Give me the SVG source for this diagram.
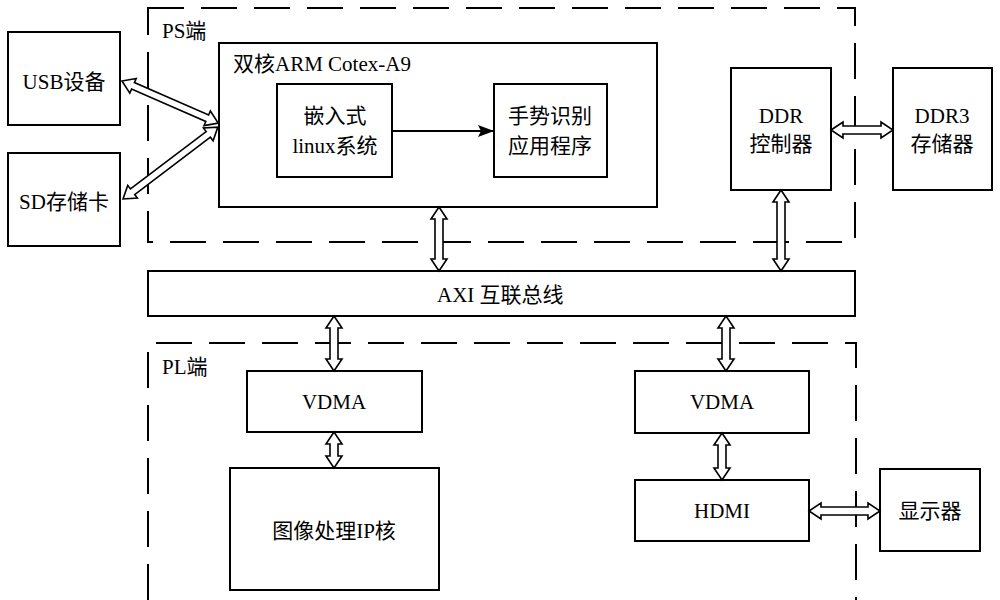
<svg xmlns="http://www.w3.org/2000/svg" width="1000" height="600" viewBox="0 0 1000 600">
<defs>
<style>
.box{fill:#fff;stroke:#000;stroke-width:2}
.region{fill:none;stroke:#000;stroke-width:2;stroke-dasharray:36 17}
.dar{fill:#fff;stroke:#000;stroke-width:1.6;stroke-linejoin:miter}
text{font-family:"Liberation Serif","Noto Sans CJK SC",serif;font-size:21px;fill:#000}
.c{text-anchor:middle}
</style>
<marker id="tri" viewBox="0 0 16 12" refX="16" refY="6" markerWidth="16" markerHeight="12" markerUnits="userSpaceOnUse" orient="auto">
<path d="M0,0 L16,6 L0,12 L3,6 Z" fill="#000"/>
</marker>
</defs>
<rect width="1000" height="600" fill="#fff"/>

<g id="ps-region">
<rect class="region" x="148" y="8" width="707" height="234"/>
<text x="162" y="38">PS端</text>
</g>
<g id="pl-region">
<path class="region" d="M148,600 L148,343 L856,343 L856,600"/>
<text x="162" y="374">PL端</text>
</g>

<g id="usb"><rect class="box" x="8" y="32" width="112" height="93"/><text class="c" x="64" y="89">USB设备</text></g>
<g id="sd"><rect class="box" x="8" y="153" width="112" height="93"/><text class="c" x="64" y="209">SD存储卡</text></g>
<g id="arm"><rect class="box" x="219" y="43" width="438" height="164"/><text x="233" y="71">双核ARM Cotex-A9</text></g>
<g id="linux"><rect class="box" x="277" y="84" width="115" height="93"/><text class="c" x="335" y="123">嵌入式</text><text class="c" x="335" y="153">linux系统</text></g>
<g id="app"><rect class="box" x="494" y="84" width="113" height="93"/><text class="c" x="550" y="123">手势识别</text><text class="c" x="550" y="153">应用程序</text></g>
<g id="ddrc"><rect class="box" x="731" y="68" width="100" height="122"/><text class="c" x="781" y="123">DDR</text><text class="c" x="781" y="151">控制器</text></g>
<g id="ddr3"><rect class="box" x="893" y="68" width="99" height="122"/><text class="c" x="942" y="123">DDR3</text><text class="c" x="942" y="151">存储器</text></g>
<g id="axi"><rect class="box" x="148" y="271" width="707" height="45"/><text x="437" y="302">AXI 互联总线</text></g>
<g id="vdma1"><rect class="box" x="247" y="371" width="175" height="61"/><text class="c" x="334" y="409">VDMA</text></g>
<g id="ipcore"><rect class="box" x="230" y="468" width="209" height="122"/><text class="c" x="334" y="538">图像处理IP核</text></g>
<g id="vdma2"><rect class="box" x="635" y="371" width="174" height="62"/><text class="c" x="722" y="409">VDMA</text></g>
<g id="hdmi"><rect class="box" x="635" y="480" width="174" height="61"/><text class="c" x="722" y="518">HDMI</text></g>
<g id="display"><rect class="box" x="880" y="469" width="100" height="82"/><text class="c" x="930" y="518">显示器</text></g>

<g id="connectors">
<line x1="392" y1="131" x2="494" y2="131" stroke="#000" stroke-width="2" marker-end="url(#tri)"/>
<path class="dar" transform="translate(122,81) rotate(23.63)" d="M0,0 L12,-8 L12,-3.5 L93,-3.5 L93,-8 L105,0 L93,8 L93,3.5 L12,3.5 L12,8 Z"/>
<path class="dar" transform="translate(123,199) rotate(-37.16)" d="M0,0 L12,-8 L12,-3.5 L107,-3.5 L107,-8 L119,0 L107,8 L107,3.5 L12,3.5 L12,8 Z"/>
<path class="dar" transform="translate(439,207) rotate(90)" d="M0,0 L12,-8 L12,-4 L52,-4 L52,-8 L64,0 L52,8 L52,4 L12,4 L12,8 Z"/>
<path class="dar" transform="translate(781,190) rotate(90)" d="M0,0 L12,-8 L12,-4 L69,-4 L69,-8 L81,0 L69,8 L69,4 L12,4 L12,8 Z"/>
<path class="dar" transform="translate(334,316) rotate(90)" d="M0,0 L12,-8 L12,-4 L43,-4 L43,-8 L55,0 L43,8 L43,4 L12,4 L12,8 Z"/>
<path class="dar" transform="translate(334,432) rotate(90)" d="M0,0 L12,-8 L12,-4 L24,-4 L24,-8 L36,0 L24,8 L24,4 L12,4 L12,8 Z"/>
<path class="dar" transform="translate(726,316) rotate(90)" d="M0,0 L12,-8 L12,-4 L43,-4 L43,-8 L55,0 L43,8 L43,4 L12,4 L12,8 Z"/>
<path class="dar" transform="translate(722,433) rotate(90)" d="M0,0 L12,-8 L12,-4 L35,-4 L35,-8 L47,0 L35,8 L35,4 L12,4 L12,8 Z"/>
<path class="dar" transform="translate(831,130)" d="M0,0 L12,-8 L12,-4 L50,-4 L50,-8 L62,0 L50,8 L50,4 L12,4 L12,8 Z"/>
<path class="dar" transform="translate(809,511)" d="M0,0 L12,-8 L12,-4 L59,-4 L59,-8 L71,0 L59,8 L59,4 L12,4 L12,8 Z"/>
</g>
</svg>
